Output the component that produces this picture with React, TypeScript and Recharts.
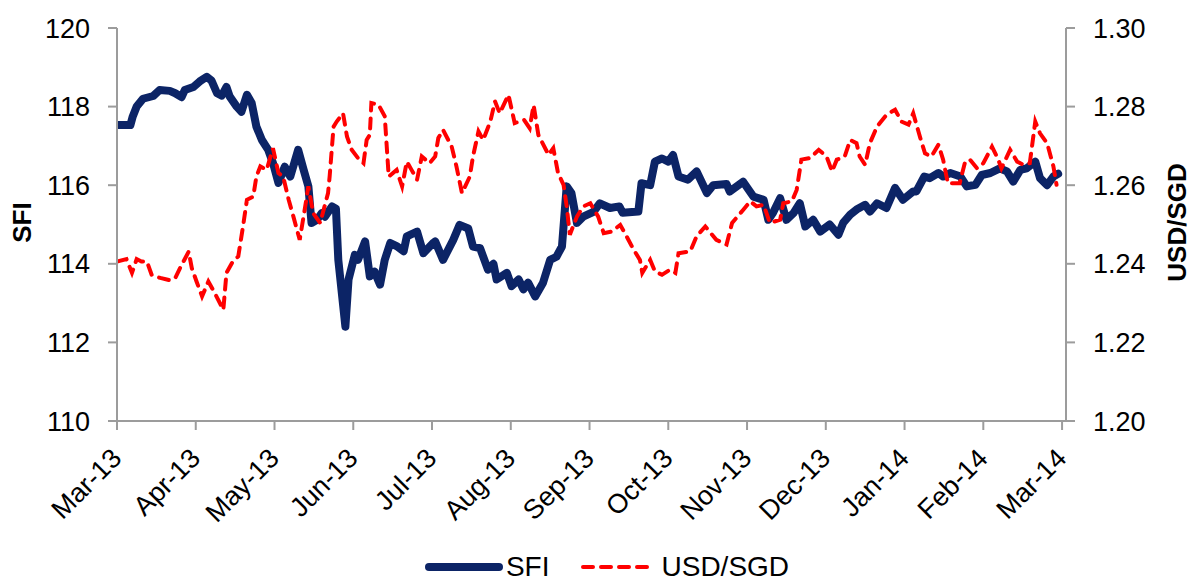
import { LineChart, Line, XAxis, YAxis, Legend } from 'recharts'

const monthLabels = [
  'Mar-13', 'Apr-13', 'May-13', 'Jun-13', 'Jul-13', 'Aug-13', 'Sep-13',
  'Oct-13', 'Nov-13', 'Dec-13', 'Jan-14', 'Feb-14', 'Mar-14',
]
const monthTicks = [0, 1, 2, 3, 4, 5, 6, 7, 8, 9, 10, 11, 12]
const sfiTicks = [110, 112, 114, 116, 118, 120]
const fxTicks = [1.2, 1.22, 1.24, 1.26, 1.28, 1.3]

// months since Mar-13
const sfiMonths = [
  0.0, 0.17, 0.2, 0.25, 0.33, 0.46, 0.54, 0.67, 0.74, 0.82, 0.86, 0.97, 1.05, 1.14, 1.2, 1.27, 1.33, 1.39, 1.43, 1.52,
  1.58, 1.65, 1.71, 1.77, 1.84, 1.92, 1.98, 2.05, 2.13, 2.2, 2.3, 2.37, 2.43, 2.47, 2.54, 2.6, 2.64, 2.73, 2.78, 2.81,
  2.9, 2.94, 3.02, 3.06, 3.15, 3.21, 3.27, 3.34, 3.4, 3.47, 3.55, 3.64, 3.68, 3.81, 3.89, 4.02, 4.04, 4.14, 4.27, 4.35,
  4.46, 4.52, 4.61, 4.71, 4.78, 4.82, 4.95, 5.01, 5.1, 5.16, 5.22, 5.31, 5.41, 5.5, 5.58, 5.65, 5.71, 5.77, 5.84, 5.92,
  6.05, 6.13, 6.26, 6.38, 6.42, 6.62, 6.66, 6.77, 6.83, 6.92, 7.0, 7.06, 7.13, 7.25, 7.36, 7.49, 7.57, 7.74, 7.78, 7.95,
  8.08, 8.16, 8.21, 8.27, 8.33, 8.42, 8.5, 8.59, 8.67, 8.74, 8.84, 8.93, 9.05, 9.16, 9.22, 9.31, 9.39, 9.5, 9.56, 9.65,
  9.77, 9.88, 9.98, 10.11, 10.15, 10.25, 10.32, 10.43, 10.49, 10.58, 10.71, 10.79, 10.9, 10.98, 11.09, 11.21, 11.3,
  11.38, 11.47, 11.55, 11.66, 11.72, 11.81, 11.89, 11.95,
]
const sfiValues = [
  117.53, 117.53, 117.75, 118.0, 118.2, 118.27, 118.42, 118.4, 118.34, 118.24, 118.42, 118.5, 118.64, 118.76, 118.66,
  118.34, 118.28, 118.5, 118.26, 118.0, 117.87, 118.3, 118.09, 117.49, 117.15, 116.9, 116.57, 116.06, 116.47, 116.22,
  116.9, 116.39, 115.97, 115.04, 115.12, 115.29, 115.2, 115.46, 115.4, 114.1, 112.4, 113.6, 114.23, 114.1, 114.57,
  113.68, 113.8, 113.47, 114.1, 114.53, 114.45, 114.32, 114.7, 114.82, 114.27, 114.54, 114.57, 114.1, 114.61, 114.99,
  114.9, 114.44, 114.4, 113.85, 114.0, 113.6, 113.77, 113.43, 113.6, 113.35, 113.52, 113.17, 113.52, 114.1, 114.18,
  114.44, 115.97, 115.8, 115.04, 115.2, 115.32, 115.54, 115.42, 115.46, 115.3, 115.33, 116.05, 116.0, 116.6, 116.68,
  116.6, 116.77, 116.22, 116.14, 116.35, 115.8, 116.0, 116.03, 115.84, 116.09, 115.71, 115.66, 115.63, 115.12, 115.3,
  115.67, 115.12, 115.29, 115.54, 114.95, 115.12, 114.82, 115.0, 114.74, 115.04, 115.25, 115.38, 115.5, 115.33, 115.54,
  115.42, 115.93, 115.63, 115.84, 115.84, 116.22, 116.18, 116.31, 116.22, 116.31, 116.22, 115.97, 116.01, 116.26,
  116.31, 116.43, 116.35, 116.09, 116.39, 116.43, 116.6, 116.18, 116.0, 116.22, 116.29,
]

const fxMonths = [
  0.0, 0.12, 0.19, 0.25, 0.31, 0.38, 0.44, 0.55, 0.67, 0.74, 0.8, 0.91, 0.95, 1.01, 1.08, 1.16, 1.24, 1.35, 1.39, 1.46,
  1.54, 1.6, 1.65, 1.73, 1.77, 1.82, 1.9, 1.98, 2.05, 2.11, 2.18, 2.24, 2.32, 2.39, 2.43, 2.49, 2.58, 2.68, 2.7, 2.75,
  2.79, 2.87, 2.92, 2.98, 3.06, 3.13, 3.17, 3.21, 3.23, 3.32, 3.4, 3.45, 3.55, 3.62, 3.68, 3.74, 3.81, 3.87, 3.97, 4.04,
  4.08, 4.14, 4.25, 4.31, 4.38, 4.48, 4.52, 4.59, 4.65, 4.74, 4.8, 4.86, 4.97, 5.05, 5.17, 5.24, 5.29, 5.35, 5.48, 5.54,
  5.6, 5.67, 5.71, 5.75, 5.84, 5.92, 6.01, 6.11, 6.18, 6.28, 6.39, 6.47, 6.56, 6.64, 6.67, 6.77, 6.83, 6.92, 7.02, 7.09,
  7.13, 7.28, 7.36, 7.47, 7.61, 7.74, 7.81, 7.95, 8.04, 8.12, 8.21, 8.29, 8.42, 8.46, 8.57, 8.63, 8.69, 8.8, 8.91, 9.01,
  9.08, 9.14, 9.24, 9.31, 9.39, 9.43, 9.5, 9.56, 9.65, 9.77, 9.88, 9.96, 10.05, 10.11, 10.2, 10.26, 10.34, 10.43, 10.49,
  10.55, 10.7, 10.77, 10.83, 10.92, 11.0, 11.11, 11.19, 11.23, 11.34, 11.43, 11.51, 11.59, 11.66, 11.72, 11.81, 11.89,
  11.93,
]
const fxValues = [
  1.2406, 1.2412, 1.2377, 1.2412, 1.2406, 1.2406, 1.2372, 1.2364, 1.2358, 1.2364, 1.2389, 1.2431, 1.2389, 1.2355,
  1.2317, 1.2355, 1.2326, 1.2283, 1.2377, 1.2402, 1.2419, 1.2495, 1.2563, 1.2571, 1.2622, 1.2648, 1.2639, 1.2694,
  1.2631, 1.2622, 1.2563, 1.252, 1.2461, 1.2546, 1.2597, 1.2529, 1.2504, 1.258, 1.2622, 1.2749, 1.2762, 1.2783,
  1.2724, 1.269, 1.2669, 1.2656, 1.2715, 1.2728, 1.2809, 1.2805, 1.2775, 1.2622, 1.2639, 1.2597, 1.266, 1.2639,
  1.2614, 1.2673, 1.2656, 1.2673, 1.272, 1.2741, 1.2698, 1.2648, 1.258, 1.2622, 1.2673, 1.2737, 1.2715, 1.2762,
  1.2813, 1.2783, 1.283, 1.2758, 1.2766, 1.2745, 1.2804, 1.2728, 1.2677, 1.2694, 1.2631, 1.2601, 1.2546, 1.2474,
  1.252, 1.2546, 1.2554, 1.252, 1.2478, 1.2482, 1.2499, 1.247, 1.2436, 1.241, 1.2377, 1.241, 1.2381, 1.2372, 1.2385,
  1.2377, 1.2427, 1.2432, 1.247, 1.2495, 1.2461, 1.2449, 1.2504, 1.2537, 1.2559, 1.2546, 1.255, 1.2504, 1.2512,
  1.2554, 1.2559, 1.2588, 1.2665, 1.2669, 1.269, 1.2673, 1.2635, 1.2665, 1.2673, 1.2715, 1.2707, 1.2673, 1.2652,
  1.2707, 1.2749, 1.2779, 1.2792, 1.2762, 1.2754, 1.2783, 1.272, 1.2681, 1.2673, 1.2703, 1.2665, 1.2605, 1.2605,
  1.266, 1.2665, 1.2643, 1.2656, 1.2698, 1.2665, 1.2643, 1.269, 1.266, 1.2652, 1.2656, 1.2762, 1.2732, 1.2707,
  1.2648, 1.2601,
]

const NAVY = '#0c2466'
const RED = '#ff0000'
const AXIS = '#9c9c9c'
const FONT = '"Liberation Sans", Arial, sans-serif'

const sfiData = sfiMonths.map((m, i) => ({ m, v: sfiValues[i] }))
const fxData = fxMonths.map((m, i) => ({ m, v: fxValues[i] }))

function MonthTick({ x, y, payload }: any) {
  return (
    <g transform={`translate(${x + 6},${y + 30})`}>
      <text textAnchor="end" transform="rotate(-45)" fontSize={27} fontFamily={FONT} fill="#000">
        {monthLabels[payload.value]}
      </text>
    </g>
  )
}

function SideTitle({ viewBox, text, dx }: any) {
  const x = (viewBox?.x ?? 0) + dx
  const y = (viewBox?.y ?? 28) + (viewBox?.height ?? 393) / 2 - 2
  return (
    <text
      x={x}
      y={y}
      transform={`rotate(-90, ${x}, ${y})`}
      textAnchor="middle"
      dominantBaseline="central"
      fontSize={26}
      fontWeight="bold"
      fontFamily={FONT}
      fill="#000"
    >
      {text}
    </text>
  )
}

function renderLegend() {
  return (
    <div
      style={{
        display: 'flex',
        justifyContent: 'center',
        alignItems: 'center',
        height: 28,
        lineHeight: '28px',
        paddingLeft: 20,
        fontFamily: FONT,
        fontSize: 28,
        color: '#000',
      }}
    >
      <svg width={80} height={14}>
        <line x1={5} y1={7} x2={75} y2={7} stroke={NAVY} strokeWidth={8} strokeLinecap="round" />
      </svg>
      <span style={{ marginLeft: 2 }}>SFI</span>
      <svg width={80} height={14} style={{ marginLeft: 30 }}>
        <line
          x1={4}
          y1={7}
          x2={74}
          y2={7}
          stroke={RED}
          strokeWidth={4}
          strokeDasharray="10 8"
          strokeLinecap="round"
        />
      </svg>
      <span style={{ marginLeft: 2 }}>USD/SGD</span>
    </div>
  )
}

export default function App() {
  return (
    <div style={{ position: 'absolute', left: 0, top: 0, background: '#fff' }}>
      <LineChart width={1193} height={581} margin={{ top: 28, right: 0, left: 0, bottom: 0 }}>
        <XAxis
          dataKey="m"
          type="number"
          domain={[0, 12.05]}
          ticks={monthTicks}
          allowDataOverflow
          height={132}
          tick={<MonthTick />}
          tickSize={9}
          tickMargin={0}
          interval={0}
          axisLine={{ stroke: AXIS, strokeWidth: 2 }}
          tickLine={{ stroke: AXIS, strokeWidth: 2 }}
        />
        <YAxis
          yAxisId="left"
          domain={[110, 120]}
          ticks={sfiTicks}
          allowDataOverflow
          width={117}
          tickSize={9}
          tickMargin={18}
          tick={{ fontSize: 27, fill: '#000', fontFamily: FONT }}
          axisLine={{ stroke: AXIS, strokeWidth: 2 }}
          tickLine={{ stroke: AXIS, strokeWidth: 2 }}
          label={<SideTitle text="SFI" dx={22} />}
        />
        <YAxis
          yAxisId="right"
          orientation="right"
          domain={[1.2, 1.3]}
          ticks={fxTicks}
          allowDataOverflow
          width={127}
          tickSize={9}
          tickMargin={18}
          tickFormatter={(v: number) => v.toFixed(2)}
          tick={{ fontSize: 27, fill: '#000', fontFamily: FONT }}
          axisLine={{ stroke: AXIS, strokeWidth: 2 }}
          tickLine={{ stroke: AXIS, strokeWidth: 2 }}
          label={<SideTitle text="USD/SGD" dx={111} />}
        />
        <Legend verticalAlign="bottom" align="center" content={renderLegend} />
        <Line
          yAxisId="left"
          data={sfiData}
          dataKey="v"
          name="SFI"
          type="linear"
          stroke={NAVY}
          strokeWidth={8}
          strokeLinejoin="round"
          strokeLinecap="round"
          dot={false}
          activeDot={false}
          isAnimationActive={false}
        />
        <Line
          yAxisId="right"
          data={fxData}
          dataKey="v"
          name="USD/SGD"
          type="linear"
          stroke={RED}
          strokeWidth={4}
          strokeDasharray="10 8"
          strokeLinecap="round"
          dot={false}
          activeDot={false}
          isAnimationActive={false}
        />
      </LineChart>
    </div>
  )
}
